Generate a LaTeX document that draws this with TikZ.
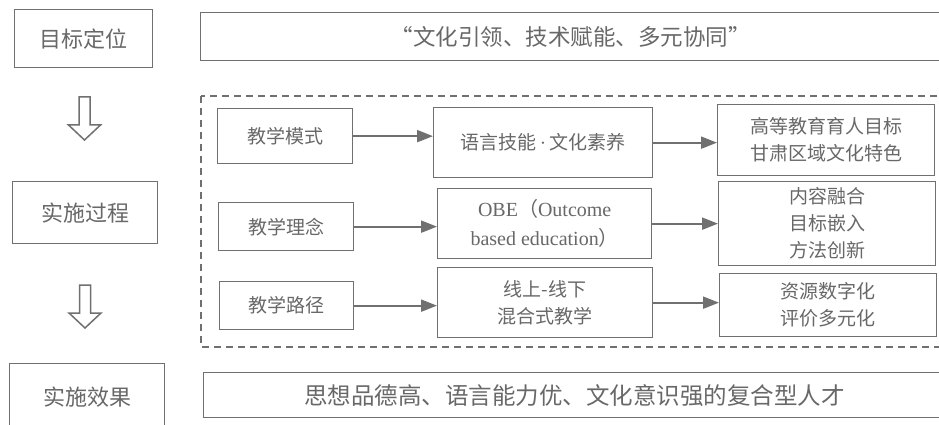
\documentclass[tikz,border=0pt]{standalone}
\usepackage{fontspec}
\setmainfont{Liberation Serif}
\newfontfamily\cjk{Noto Sans CJK SC}
\usetikzlibrary{arrows.meta}
\definecolor{ln}{HTML}{707070}
\definecolor{tx}{HTML}{686868}
\tikzset{
 box/.style={draw=ln, line width=1.3pt, text=tx, align=center, inner sep=0pt, anchor=north west, font=\cjk\fontsize{19}{27}\selectfont},
 bigtext/.style={font=\cjk\fontsize{22}{27}\selectfont},
 conn/.style={draw=ln, line width=2pt, -{Triangle[length=16pt,width=12pt]}},
 hollow/.pic={\draw[ln, line width=1.5pt, fill=white] (-5.5,0) -- (5.5,0) -- (5.5,28) -- (16,28) -- (0,43) -- (-16,28) -- (-5.5,28) -- cycle;}
}
\begin{document}
\begin{tikzpicture}[x=1pt,y=-1pt]
\useasboundingbox (0,0) rectangle (939,425);
\clip (0,0) rectangle (939,425);
\fill[white] (0,0) rectangle (939,425);
% left column
\node[box, bigtext, minimum width=138, minimum height=58] (goal) at (14,9) {目标定位};
\node[box, bigtext, minimum width=145, minimum height=62] (proc) at (12,181) {实施过程};
\node[box, bigtext, minimum width=155, minimum height=67] (eff) at (9,363) {实施效果};
\pic at (84.5,97) {hollow};
\pic at (85,285) {hollow};
% top and bottom wide boxes
\node[box, font=\cjk\fontsize{22.5}{27}\selectfont, minimum width=740, minimum height=48] (top) at (200,12) {“文化引领、技术赋能、多元协同”};
\node[box, font=\cjk\fontsize{23.5}{27}\selectfont, minimum width=742, minimum height=45] (bot) at (203,372) {思想品德高、语言能力优、文化意识强的复合型人才};
% dashed frame
\draw[ln, line width=1.2pt, dash pattern=on 7pt off 5pt] (201,96) rectangle (942,347);
% inner boxes
\node[box, minimum width=135, minimum height=55] (m1) at (217,108) {教学模式};
\node[box, minimum width=135, minimum height=48] (m2) at (218,202) {教学理念};
\node[box, minimum width=134, minimum height=48] (m3) at (219,281) {教学路径};
\node[box, minimum width=219, minimum height=70] (c1) at (433,107) {语言技能{\rmfamily\,·\,}文化素养};
\node[box, minimum width=214, minimum height=70, font=\fontsize{20}{29}\selectfont] (c2) at (437,188) {OBE{\cjk （}Outcome\\based education{\cjk ）}};
\node[box, minimum width=215, minimum height=70] (c3) at (437,267) {线上-线下\\混合式教学};
\node[box, minimum width=217, minimum height=71] (r1) at (717,104) {高等教育育人目标\\甘肃区域文化特色};
\node[box, minimum width=217, minimum height=84] (r2) at (718,181) {内容融合\\目标嵌入\\方法创新};
\node[box, minimum width=217, minimum height=63] (r3) at (719,273) {资源数字化\\评价多元化};
% connectors
\draw[conn] (m1.east) -- (m1.east -| c1.west);
\draw[conn] (m2.east) -- (m2.east -| c2.west);
\draw[conn] (m3.east) -- (m3.east -| c3.west);
\draw[conn] (c1.east) -- (c1.east -| r1.west);
\draw[conn] (c2.east) -- (c2.east -| r2.west);
\draw[conn] (c3.east) -- (c3.east -| r3.west);
\end{tikzpicture}
\end{document}
